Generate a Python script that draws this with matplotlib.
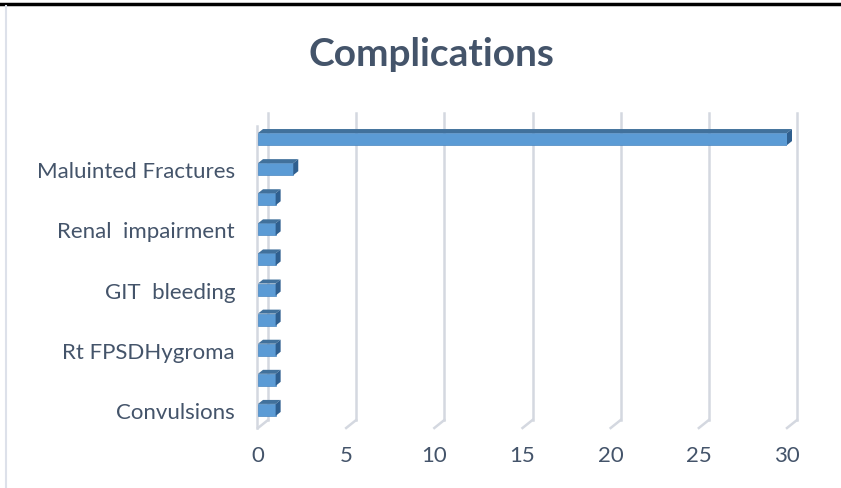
import matplotlib
matplotlib.use("Agg")
import matplotlib.pyplot as plt
from matplotlib.patches import Polygon
from matplotlib.lines import Line2D
from matplotlib.transforms import IdentityTransform

plt.rcParams['font.family'] = ['Lato', 'DejaVu Sans']

# data, bottom to top (only every other label is shown in the original)
categories = ["Convulsions", "", "Rt FPSDHygroma", "", "GIT  bleeding", "",
              "Renal  impairment", "", "Maluinted Fractures", ""]
values = [1, 1, 1, 1, 1, 1, 1, 1, 2, 30]
x_ticks = [0, 5, 10, 15, 20, 25, 30]

text_col = "#44546A"
grid_col = "#D4D8E0"
front_col = "#5B9BD5"
top_col = "#41719C"
side_col = "#2F5F8F"

W, H = 841, 489
fig = plt.figure(figsize=(W / 100, H / 100), dpi=100)
ax = fig.add_axes([258 / W, 60 / H, 529 / W, 307 / H])
ax.patch.set_visible(False)
ax.set_xlim(0, 30)
ax.set_ylim(-0.6, len(values) - 0.4)
for s in ax.spines.values():
    s.set_visible(False)

ax.set_xticks(x_ticks)
ax.set_yticks(range(len(categories)))
ax.set_yticklabels(categories)
ax.tick_params(length=0, labelsize=16, labelcolor=text_col)
ax.tick_params(axis='x', pad=12)
ax.tick_params(axis='y', pad=16.5)

# walls: back gridlines shifted by the depth of the chart (pixels),
# drawn on the figure below the axes so the bars cover them
wall_dx, wall_dy = 10, 8
y0, y1 = ax.get_ylim()
ident = IdentityTransform()


def px(x, y):
    return ax.transData.transform((x, y))


def pixel_line(xs, ys):
    fig.add_artist(Line2D(xs, ys, color=grid_col, lw=1.8, transform=ident, zorder=-1))


for t in x_ticks:
    lo, hi = px(t, y0), px(t, y1)
    pixel_line([lo[0] + wall_dx, hi[0] + wall_dx], [lo[1] + wall_dy, hi[1] + wall_dy])
    pixel_line([lo[0], lo[0] + wall_dx], [lo[1], lo[1] + wall_dy])
lo, hi = px(0, y0), px(0, y1)
pixel_line([lo[0] - 1, hi[0] - 1], [lo[1], hi[1] - 5])

# bars with a small 3D look
bh = 0.4
bar_dx, bar_dy = 5, 4
ys = list(range(len(values)))
ax.barh(ys, values, height=bh, color=front_col, edgecolor="#4A86C0", lw=0.5, zorder=3)
for y, v in zip(ys, values):
    a = px(0, y + bh / 2)
    b = px(v, y + bh / 2)
    c = px(v, y - bh / 2)
    top = [a, b, (b[0] + bar_dx, b[1] + bar_dy), (a[0] + bar_dx, a[1] + bar_dy)]
    side = [b, c, (c[0] + bar_dx, c[1] + bar_dy), (b[0] + bar_dx, b[1] + bar_dy)]
    ax.add_patch(Polygon(top, closed=True, facecolor=top_col, edgecolor="none",
                         transform=ident, clip_on=False, zorder=4))
    ax.add_patch(Polygon(side, closed=True, facecolor=side_col, edgecolor="none",
                         transform=ident, clip_on=False, zorder=4))

fig.text(431 / W, 1 - 54 / H, "Complications", ha="center", va="center",
         fontsize=28, fontweight="bold", color=text_col)

# frame lines of the original picture
fig.add_artist(Line2D([0, 1], [1 - 5 / H, 1 - 5 / H], color="black", lw=2.5))
fig.add_artist(Line2D([6 / W, 6 / W], [0, 1 - 7 / H], color="#DDE1EA", lw=1.5))

fig.savefig("out.png", dpi=100)
